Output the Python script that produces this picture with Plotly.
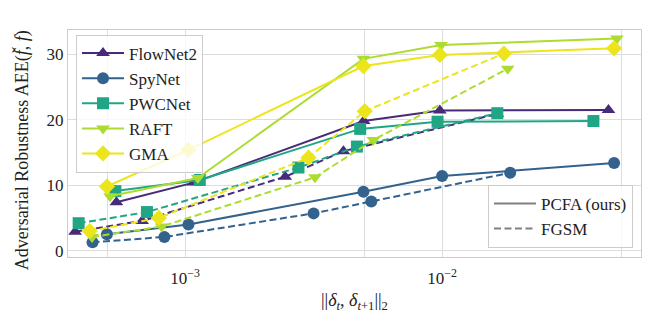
import plotly.graph_objects as go

networks = ["FlowNet2", "SpyNet", "PWCNet", "RAFT", "GMA"]
colors = ["#472a7a", "#33628d", "#21a685", "#addc30", "#ece51b"]
symbols = ["triangle-up", "circle", "square", "triangle-down", "diamond"]

# PCFA (ours) – solid
pcfa_x = [
    [5.4e-4, 1.08e-3, 4.95e-3, 9.8e-3, 4.44e-2],
    [4.96e-4, 1.03e-3, 4.94e-3, 1.0e-2, 4.67e-2],
    [5.35e-4, 1.14e-3, 4.8e-3, 9.6e-3, 3.88e-2],
    [5.1e-4, 1.12e-3, 4.94e-3, 9.9e-3, 4.79e-2],
    [4.96e-4, 1.03e-3, 4.94e-3, 9.8e-3, 4.67e-2],
]
pcfa_y = [
    [7.4, 10.4, 19.8, 21.4, 21.5],
    [2.5, 4.0, 9.0, 11.4, 13.4],
    [9.1, 10.8, 18.6, 19.7, 19.8],
    [8.3, 11.1, 29.3, 31.4, 32.4],
    [9.8, 15.4, 28.2, 29.9, 30.9],
]

# FGSM – dashed
fgsm_x = [
    [3.73e-4, 6.8e-4, 2.45e-3, 4.13e-3, 1.64e-2],
    [4.36e-4, 8.3e-4, 3.16e-3, 5.3e-3, 1.84e-2],
    [3.85e-4, 7.1e-4, 2.76e-3, 4.66e-3, 1.64e-2],
    [4.34e-4, 8.1e-4, 3.2e-3, 5.4e-3, 1.8e-2],
    [4.25e-4, 7.9e-4, 3.02e-3, 5.0e-3, 1.74e-2],
]
fgsm_y = [
    [2.9, 4.55, 11.3, 15.2, 20.9],
    [1.3, 2.1, 5.7, 7.5, 11.9],
    [4.2, 5.9, 12.7, 15.9, 21.0],
    [2.1, 3.7, 11.2, 16.9, 27.8],
    [3.0, 5.0, 14.2, 21.3, 30.1],
]

x_tickvals = [5e-4, 1e-3, 5e-3, 1e-2, 5e-2]
x_ticktext = ["", "10<sup>−3</sup>", "", "10<sup>−2</sup>", ""]
y_tickvals = [0, 10, 20, 30]

marker_sizes = {"triangle-up": 12, "circle": 12, "square": 12,
                "triangle-down": 12, "diamond": 12.5}

FONT = "Liberation Serif, DejaVu Serif, serif"

fig = go.Figure()
for i, name in enumerate(networks):
    fig.add_trace(go.Scatter(
        x=pcfa_x[i], y=pcfa_y[i], mode="lines+markers", name=name,
        line=dict(color=colors[i], width=2),
        marker=dict(symbol=symbols[i], size=marker_sizes[symbols[i]],
                    color=colors[i], line=dict(width=0)),
        legend="legend",
    ))
    fig.add_trace(go.Scatter(
        x=fgsm_x[i], y=fgsm_y[i], mode="lines+markers", name=name + " FGSM",
        line=dict(color=colors[i], width=2, dash="7px,3.5px"),
        marker=dict(symbol=symbols[i], size=marker_sizes[symbols[i]],
                    color=colors[i], line=dict(width=0)),
        showlegend=False,
    ))

fig.add_trace(go.Scatter(x=[None], y=[None], mode="lines", name="PCFA (ours)",
                         line=dict(color="#808080", width=2), legend="legend2"))
fig.add_trace(go.Scatter(x=[None], y=[None], mode="lines", name="FGSM",
                         line=dict(color="#808080", width=2, dash="7px,3.5px"),
                         legend="legend2"))

# The page body adds an 8px offset; size/margins compensate for it.
fig.update_layout(
    width=646, height=314,
    margin=dict(l=60, r=13, t=22, b=65),
    paper_bgcolor="white", plot_bgcolor="white",
    font=dict(family=FONT, size=17, color="#222222"),
    showlegend=True,
    legend=dict(x=0.014, y=0.98, xanchor="left", yanchor="top",
                bgcolor="rgba(255,255,255,0.8)", bordercolor="#cccccc",
                borderwidth=1, font=dict(family=FONT, size=17),
                tracegroupgap=0, itemwidth=42),
    legend2=dict(x=0.986, y=0.04, xanchor="right", yanchor="bottom",
                 bgcolor="rgba(255,255,255,0.8)", bordercolor="#cccccc",
                 borderwidth=1, font=dict(family=FONT, size=17),
                 tracegroupgap=0, itemwidth=42),
    xaxis=dict(
        type="log", range=[-3.456, -1.226], automargin=False,
        tickvals=x_tickvals, ticktext=x_ticktext,
        showgrid=True, gridcolor="#dddddd", gridwidth=1,
        showline=True, linecolor="#cccccc", linewidth=1, mirror=True,
        ticks="", zeroline=False, ticklabelstandoff=6,
        tickfont=dict(family=FONT, size=17),
    ),
    yaxis=dict(
        range=[-0.96, 33.7], tickvals=y_tickvals, automargin=False,
        showgrid=True, gridcolor="#dddddd", gridwidth=1,
        showline=True, linecolor="#cccccc", linewidth=1, mirror=True,
        ticks="", zeroline=False,
        tickfont=dict(family=FONT, size=17),
    ),
    annotations=[
        dict(text="||<i>δ</i><sub><i>t</i></sub>, <i>δ</i><sub><i>t</i>+1</sub>||<sub>2</sub>",
             xref="paper", yref="paper", x=0.5, y=0, yshift=-44,
             xanchor="center", yanchor="middle", showarrow=False,
             font=dict(family=FONT, size=18, color="#222222")),
        dict(text="Adversarial Robustness AEE(<i>f̌</i>, <i>f</i>)",
             xref="paper", yref="paper", x=0, y=0.47, xshift=-45,
             xanchor="center", yanchor="middle", textangle=-90, showarrow=False,
             font=dict(family=FONT, size=18, color="#222222")),
    ],
)

fig.write_html("out.html")
